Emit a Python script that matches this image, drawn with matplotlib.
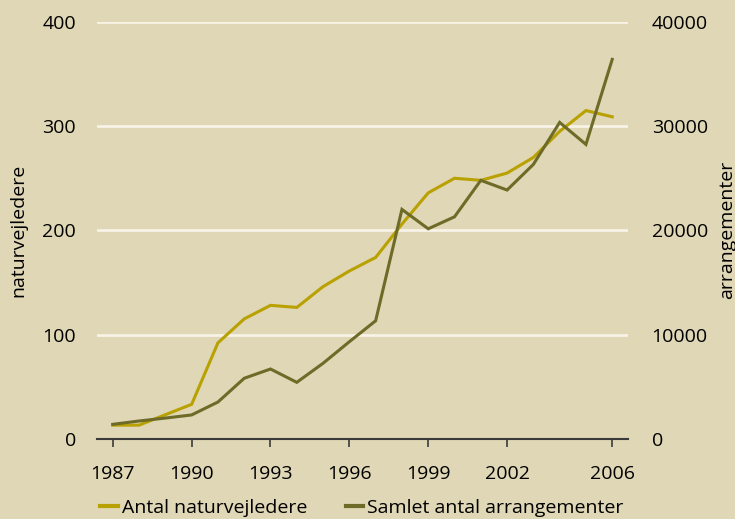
import matplotlib
matplotlib.use("Agg")
import matplotlib.pyplot as plt
from matplotlib.lines import Line2D

plt.rcParams['font.family'] = ['Open Sans', 'DejaVu Sans']

years = list(range(1987, 2007))
naturvejledere = [13, 13, 23, 33, 92, 115, 128, 126, 146, 161, 174, 206, 236, 250, 248, 255, 270, 295, 315, 309]
arrangementer = [1380, 1700, 1980, 2280, 3520, 5800, 6690, 5410, 7240, 9310, 11320, 22010, 20150, 21300, 24800, 23870, 26330, 30360, 28250, 36410]
xticks = [1987, 1990, 1993, 1996, 1999, 2002, 2006]
left_ticks = [0, 100, 200, 300, 400]
right_ticks = [0, 10000, 20000, 30000, 40000]

bg = '#DFD7B5'
c_yellow = '#B9A102'
c_olive = '#6E6A27'
fs = 14

fig = plt.figure(figsize=(7.35, 5.19), dpi=100, facecolor=bg)
ax = fig.add_axes([97/735, 1-438.7/519, (628-97)/735, (438.7-22)/519])
ax.set_facecolor(bg)
ax2 = ax.twinx()

ax.set_xlim(1986.4, 2006.6)
ax.set_ylim(0, 400)
ax2.set_ylim(0, 40000)

for y in left_ticks[1:]:
    ax.axhline(y, color='#F7F3E6', lw=2, zorder=1)

ax.plot(years, naturvejledere, color=c_yellow, lw=2.2, zorder=3, solid_joinstyle='miter')
ax2.plot(years, arrangementer, color=c_olive, lw=2.2, zorder=3, solid_joinstyle='miter')

for a in (ax, ax2):
    for s in ('top', 'left', 'right'):
        a.spines[s].set_visible(False)
ax2.spines['bottom'].set_visible(False)
ax.spines['bottom'].set_color('#3a3a3a')
ax.spines['bottom'].set_linewidth(1.5)

ax.set_xticks(xticks)
ax.set_xticklabels([str(x) for x in xticks], fontsize=fs)
ax.tick_params(axis='x', direction='out', length=6, width=1.2, color='#3a3a3a', pad=13)

ax.set_yticks(left_ticks)
ax.set_yticklabels([str(v) for v in left_ticks], fontsize=fs)
ax.tick_params(axis='y', length=0, pad=15)
ax2.set_yticks(right_ticks)
ax2.set_yticklabels([str(v) for v in right_ticks], fontsize=fs)
ax2.tick_params(axis='y', length=0, pad=17)

ax.set_ylabel('naturvejledere', fontsize=fs)
ax.yaxis.set_label_coords(-0.132, 0.5)
ax2.set_ylabel('arrangementer', fontsize=fs)
ax2.yaxis.set_label_coords(1.1695, 0.5)

handles = [Line2D([], [], color=c_yellow, lw=3), Line2D([], [], color=c_olive, lw=3)]
fig.legend(handles, ['Antal naturvejledere', 'Samlet antal arrangementer'],
           loc='center', bbox_to_anchor=(362/735, 1-508/519), ncol=2, frameon=False,
           fontsize=fs, handlelength=0.9, handletextpad=0.2, columnspacing=2.0)

fig.savefig('out.png', dpi=100, facecolor=bg)
